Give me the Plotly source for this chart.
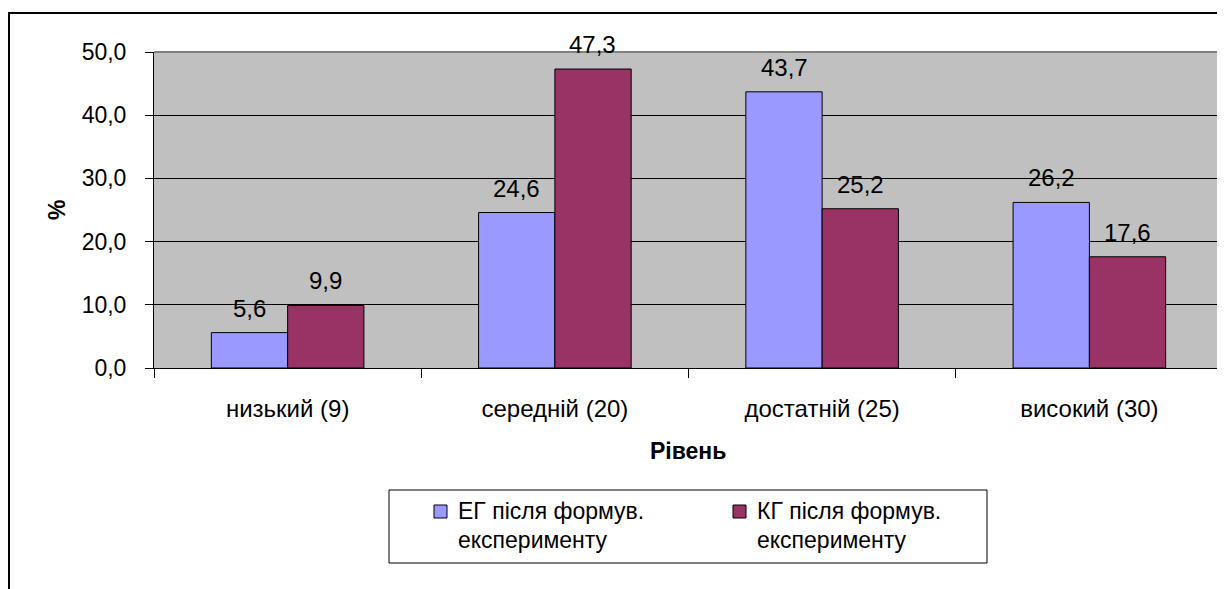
import plotly.graph_objects as go

categories = ["низький (9)", "середній (20)", "достатній (25)", "високий (30)"]
eg_values = [5.6, 24.6, 43.7, 26.2]
kg_values = [9.9, 47.3, 25.2, 17.6]
series_lines = [["ЕГ після формув.", "експерименту"], ["КГ після формув.", "експерименту"]]
series_colors = ["#9999FF", "#993366"]
y_ticks = [0, 10, 20, 30, 40, 50]

FONT = "Arial, Liberation Sans, sans-serif"
OFF = 8  # page body margin
W, H = 1225 - OFF, 589 - OFF
L, R, T, B = 154 - OFF, 1223 - OFF, 52 - OFF, 368 - OFF


def px_x(p):
    return (p - OFF - L) / (R - L)


def px_y(p):
    return (B - (p - OFF)) / (B - T)


fig = go.Figure()
series_values = [eg_values, kg_values]
for lines, vals, col in zip(series_lines, series_values, series_colors):
    fig.add_trace(go.Bar(
        x=categories, y=vals, name=" ".join(lines),
        marker=dict(color=col, line=dict(color="black", width=1)),
        showlegend=False,
    ))

annotations = []
# data labels
bar_shift = 38
for i, vals in enumerate(series_values):
    for c, v in zip(categories, vals):
        annotations.append(dict(
            x=c, y=v, xref="x", yref="y", text=f"{v:.1f}".replace(".", ","),
            showarrow=False, xshift=(-bar_shift if i == 0 else bar_shift), yshift=9,
            xanchor="center", yanchor="bottom",
            font=dict(family=FONT, size=24, color="black"),
        ))

# axis titles
annotations.append(dict(text="<b>%</b>", xref="paper", yref="paper", x=px_x(57), y=px_y(210),
                        xanchor="center", yanchor="middle",
                        showarrow=False, textangle=-90,
                        font=dict(family=FONT, size=23, color="black")))
annotations.append(dict(text="<b>Рівень</b>", xref="paper", yref="paper", x=px_x(688), y=px_y(451),
                        xanchor="center", yanchor="middle",
                        showarrow=False, font=dict(family=FONT, size=23, color="black")))

# manual legend
legend_box = dict(x0=389, x1=987, y0=490, y1=563)
entry_x = [434, 733]
shapes = [
    dict(type="line", xref="paper", yref="paper", x0=0, x1=1, y0=1, y1=1,
         line=dict(color="#808080", width=2)),
    dict(type="line", xref="paper", yref="paper", x0=1, x1=1, y0=0, y1=1,
         line=dict(color="#808080", width=1)),
    dict(type="rect", xref="paper", yref="paper",
         x0=px_x(9), x1=px_x(1260), y0=px_y(640), y1=px_y(13),
         line=dict(color="black", width=2)),
    dict(type="rect", xref="paper", yref="paper",
         x0=px_x(legend_box["x0"]), x1=px_x(legend_box["x1"]),
         y0=px_y(legend_box["y1"]), y1=px_y(legend_box["y0"]),
         line=dict(color="black", width=1), fillcolor="white"),
]
for ex, lines, col in zip(entry_x, series_lines, series_colors):
    shapes.append(dict(type="rect", xref="paper", yref="paper",
                       x0=px_x(ex), x1=px_x(ex + 13), y0=px_y(518), y1=px_y(505),
                       line=dict(color="black", width=1), fillcolor=col))
    for k, line in enumerate(lines):
        annotations.append(dict(text=line, xref="paper", yref="paper",
                                x=px_x(ex + 22), y=px_y(511 + 29 * k),
                                xanchor="left", yanchor="middle", showarrow=False,
                                font=dict(family=FONT, size=23, color="black")))

fig.update_layout(
    width=W, height=H,
    margin=dict(l=L, r=W - R, t=T, b=H - B, autoexpand=False),
    paper_bgcolor="white", plot_bgcolor="#C0C0C0",
    separators=", ",
    barmode="group", bargap=0.429, bargroupgap=0,
    font=dict(family=FONT, size=22, color="black"),
    showlegend=False,
    xaxis=dict(
        showline=True, linecolor="black", linewidth=1,
        ticks="outside", tickson="boundaries", ticklen=9, tickcolor="black",
        tickfont=dict(family=FONT, size=24, color="black"),
        ticklabelstandoff=19,
        showgrid=False,
    ),
    yaxis=dict(
        range=[0, 50], tickvals=y_ticks, tickformat=".1f",
        showline=True, linecolor="black", linewidth=1,
        ticks="outside", ticklen=8, tickcolor="black",
        tickfont=dict(family=FONT, size=23, color="black"),
        ticklabelstandoff=14,
        showgrid=True, gridcolor="black", gridwidth=1,
        zeroline=False,
    ),
    shapes=shapes,
    annotations=annotations,
)

fig.write_html("out.html")
